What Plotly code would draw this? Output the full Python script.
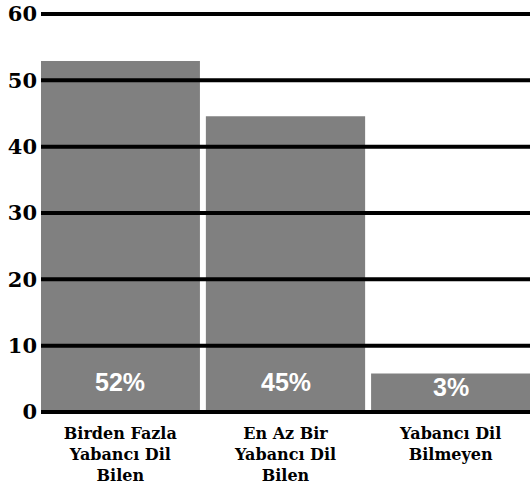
import plotly.graph_objects as go

categories = ["Birden Fazla<br>Yabancı Dil<br>Bilen", "En Az Bir<br>Yabancı Dil<br>Bilen", "Yabancı Dil<br>Bilmeyen"]
values = [52.9, 44.6, 5.8]
percent_labels = ["52%", "45%", "3%"]
y_ticks = [0, 10, 20, 30, 40, 50, 60]

x_pos = list(range(len(categories)))

fig = go.Figure()
fig.add_trace(go.Bar(
    x=x_pos, y=values,
    marker=dict(color="#808080", line=dict(width=0)),
    hoverinfo="skip",
))

# thick black gridlines drawn above the bars
for t in y_ticks:
    fig.add_shape(type="line", xref="paper", yref="y", x0=0, x1=1, y0=t, y1=t,
                  line=dict(color="black", width=4), layer="above")

# percentage labels inside the bars
for xi, v, lab in zip(x_pos, values, percent_labels):
    fig.add_annotation(x=xi, y=min(v / 2 + 0.8, 4.6), text=f"<b>{lab}</b>", showarrow=False,
                       font=dict(family="Liberation Sans", size=25, color="white"),
                       xanchor="center", yanchor="middle")

fig.update_layout(
    width=530, height=493,
    margin=dict(l=41, r=0, t=12, b=79),
    paper_bgcolor="white", plot_bgcolor="white",
    font=dict(family="DejaVu Serif", color="black"),
    bargap=0.036,
    showlegend=False,
    xaxis=dict(
        range=[-0.48, 2.48], automargin=False,
        tickmode="array", tickvals=x_pos, ticktext=[f"<b>{c}</b>" for c in categories],
        showgrid=False, zeroline=False, showline=False, ticks="",
        tickfont=dict(family="DejaVu Serif", size=16, color="black"),
        ticklabelstandoff=8,
    ),
    yaxis=dict(
        range=[-0.3, 60.3], automargin=False,
        tickmode="array", tickvals=y_ticks, ticktext=[f"<b>{t}</b>" for t in y_ticks],
        showgrid=False, zeroline=False, showline=False, ticks="",
        tickfont=dict(family="DejaVu Serif", size=21, color="black"),
        ticklabelstandoff=3,
    ),
)

fig.write_html("out.html", config={"displayModeBar": False},
               post_script="document.body.style.margin='0';document.body.style.overflow='hidden';")
